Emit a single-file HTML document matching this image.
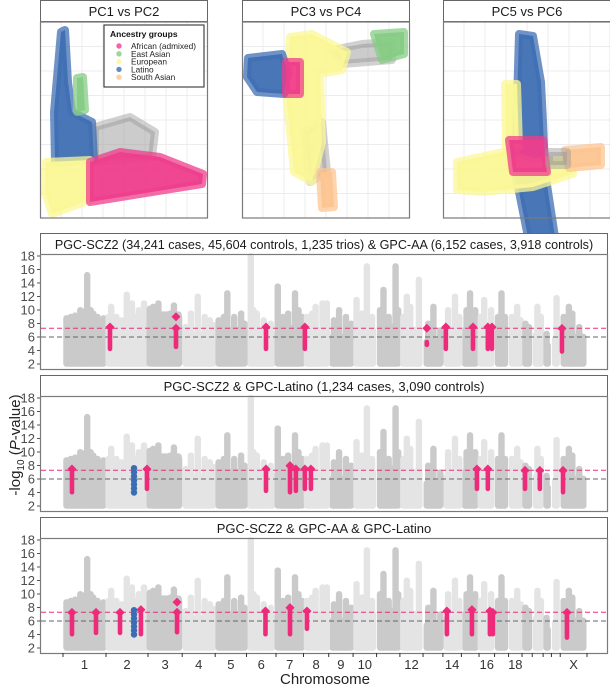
<!DOCTYPE html>
<html><head><meta charset="utf-8"><style>
body{margin:0;background:#fff;}
svg{display:block;font-family:"Liberation Sans",sans-serif;}
</style></head><body>
<svg id="fig" width="610" height="685" viewBox="0 0 610 685" xmlns="http://www.w3.org/2000/svg">
<g id="pca"></g>
<g id="man"></g>
</svg>
<script>
// ---------- Manhattan data ----------
const chrNames=['1','2','3','4','5','6','7','8','9','10','11','12','13','14','15','16','17','18','19','20','21','22','X'];
const chrLen=[249,243,198,191,181,171,159,146,141,136,135,134,115,107,102,90,81,78,59,63,48,51,155];
const chrShown=['1','2','3','4','5','6','7','8','9','10','12','14','16','18','X'];
const baseTop=[8.5,7.5,9.8,6.8,7.5,7,7.8,7.5,6.5,7.5,8,7.5,5.8,6.8,7.5,7.5,7.5,6.8,6.2,6.8,5.2,6.2,6.5];
const peaks=[[1,20,8.8],[1,45,9],[1,70,9.2],[1,100,10],[1,120,9.8],[1,140,15.2],[1,160,10],[1,175,9.5],[1,200,9],[1,215,7.5],[1,235,8.8],
[2,15,9],[2,30,10.5],[2,60,9],[2,90,8.5],[2,120,12.3],[2,150,11],[2,170,9],[2,190,10],[2,220,11],[2,235,9.5],
[3,10,10.2],[3,30,10.5],[3,60,11],[3,100,8],[3,130,9.5],[3,150,10.7],[3,180,9],
[4,20,7.5],[4,50,9.5],[4,90,12],[4,130,9],[4,160,8.5],[4,180,7.8],
[5,20,8.5],[5,50,9],[5,70,12.5],[5,110,9],[5,150,9.5],[5,170,8],
[6,25,18],[6,40,10],[6,60,9.5],[6,100,8.5],[6,140,8],
[7,10,13.5],[7,40,9],[7,70,9.5],[7,110,12.5],[7,130,10],[7,150,9],
[8,20,9],[8,50,9.5],[8,70,10.5],[8,110,11],[8,135,11],
[9,30,8.5],[9,60,10],[9,100,9],[9,130,8],
[10,20,11.5],[10,50,9.5],[10,80,16.5],[10,110,9],
[11,20,10],[11,40,13],[11,70,9],[11,110,16.5],[11,125,10],
[12,20,9],[12,40,12],[12,60,10.5],[12,110,14.5],
[13,30,8],[13,60,10.5],[13,100,7],
[14,30,10],[14,70,12],[14,95,9],
[15,30,10],[15,50,12.5],[15,80,10],
[16,10,9],[16,30,11.5],[16,70,10],
[17,20,9],[17,40,12.5],[17,60,9],
[18,20,9],[18,50,10.5],[18,70,8.5],
[19,20,8],[19,40,7.5],[20,30,10.5],[20,50,9],[21,20,6.5],[22,30,11.8],
[23,20,9],[23,50,10.5],[23,70,9.5],[23,110,7.5]];
// hits: [chr, posMb, top, bottom, kind]
const hits1=[[2,23,8,4.2,'a'],[3,162,9,4.2,'d'],[6,113,8,4.2,'a'],[8,8,8,4.2,'a'],[13,22,7.3,4.5,'d1'],[14,17,8,4.2,'a'],[15,67,8,4.2,'a'],[16,51,8,4.2,'a'],[16,75,8,4.2,'a'],[23,10,7.8,3.8,'a']];
const hits2=[[1,52,8,4,'a'],[2,162,8,4,'b'],[2,237,8,4.5,'a'],[6,113,8,4.2,'a'],[7,81,8.5,4,'a'],[7,115,8,4.2,'a'],[8,8,8,4.5,'a'],[8,43,8,4.5,'a'],[15,90,8,4.5,'a'],[16,51,8,4.5,'a'],[19,17,7.8,4.5,'a'],[20,44,7.8,4.5,'a'],[23,16,7.8,4,'a']];
const hits3=[[1,52,7.8,4,'a'],[1,191,7.8,4.2,'a'],[2,81,7.8,4.2,'a'],[2,162,8,4,'b'],[2,202,8.2,4,'a'],[3,168,8.8,4,'d'],[6,110,8,4,'a'],[7,81,8.5,4,'a'],[8,20,8,4.8,'a'],[14,23,8,4,'a'],[15,61,8.2,4,'a'],[16,63,8,4,'a'],[16,80,7.8,4,'a'],[23,39,7.8,3.5,'a']];
const panelTitles=['PGC-SCZ2 (34,241 cases, 45,604 controls, 1,235 trios) & GPC-AA (6,152 cases, 3,918 controls)','PGC-SCZ2 & GPC-Latino (1,234 cases, 3,090 controls)','PGC-SCZ2 & GPC-AA & GPC-Latino'];
const yTicks=[2,4,6,8,10,12,14,16,18];

const NS='http://www.w3.org/2000/svg';
function mk(tag,attrs,parent){const e=document.createElementNS(NS,tag);for(const k in attrs)e.setAttribute(k,attrs[k]);parent.appendChild(e);return e;}
const man=document.getElementById('man');
const cumStart=[];let acc=0;chrLen.forEach(l=>{cumStart.push(acc);acc+=l;});
const total=acc;
const X0=63,X1=587;
function xg(chr,pos){return X0+(cumStart[chr-1]+pos)*(X1-X0)/total;}
const PINK='#ee2a7b',BLUE='#3a6db3';
const allHits=[hits1,hits2,hits3];
for(let p=0;p<3;p++){
  const off=p*142;
  const top=233+off, y18=256+off;
  const yv=v=>y18+(18-v)*6.75;
  const g=mk('g',{},man);
  
  
  const strip=mk('rect',{x:40.5,y:top+0.5,width:567,height:21,fill:'#fff',stroke:'#666','stroke-width':1},g);
  
  
  const st=mk('text',{x:324,y:top+16,'text-anchor':'middle','font-size':p==0?'12.6':'13',fill:'#1a1a1a'},g);
  st.textContent=panelTitles[p];
  
  
  const bottom=369+off;
  const dg=mk('g',{},g);
  
  
  for(let c=1;c<=23;c++){
    const col=(c%2==1)?'#cacaca':'#e4e4e4';
    const xa=xg(c,0)+0.5,xb=xg(c,chrLen[c-1])-0.5;
    const r=mk('rect',{x:xa,y:yv(baseTop[c-1]),width:Math.max(1,xb-xa),height:yv(1.6)-yv(baseTop[c-1]),rx:3,fill:col},dg);
    
    
  }
  peaks.forEach(pk=>{
    const c=pk[0];const col=(c%2==1)?'#cacaca':'#e4e4e4';
    const x=xg(c,pk[1]);
    const r=mk('rect',{x:x-3.2,y:yv(pk[2])-3,width:6.4,height:yv(1.6)-yv(pk[2])+3,rx:3.2,fill:col},dg);
    
    
  });
  const l1=mk('line',{x1:41,x2:607,y1:yv(7.3),y2:yv(7.3),stroke:PINK,'stroke-width':1,'stroke-dasharray':'5,3'},g);
  
  
  const l2=mk('line',{x1:41,x2:607,y1:yv(6),y2:yv(6),stroke:'#666','stroke-width':1,'stroke-dasharray':'5,3'},g);
  
  
  allHits[p].forEach(h=>{
    const x=xg(h[0],h[1]);
    const hg=mk('g',{},g);
    
    
    if(h[4]=='b'){
      for(let v=h[3];v<=h[2];v+=0.6) mk('circle',{cx:x,cy:yv(v),r:3.2,fill:BLUE},hg);
      return;
    }
    if(h[4]=='d'){
      mk('rect',{x:x-2.3,y:yv(7.3),width:4.6,height:yv(h[3])-yv(7.3),rx:2.3,fill:PINK},hg);
      [h[2],7.3].forEach(v=>mk('polygon',{points:`${x},${yv(v)-4.5} ${x+4.5},${yv(v)} ${x},${yv(v)+4.5} ${x-4.5},${yv(v)}`,fill:PINK},hg));
      return;
    }
    if(h[4]=='d1'){
      mk('rect',{x:x-2.3,y:yv(5.6),width:4.6,height:yv(h[3])-yv(5.6),rx:2.3,fill:PINK},hg);
      mk('polygon',{points:`${x},${yv(7.3)-4.5} ${x+4.5},${yv(7.3)} ${x},${yv(7.3)+4.5} ${x-4.5},${yv(7.3)}`,fill:PINK},hg);
      return;
    }
    mk('rect',{x:x-2.3,y:yv(h[2])+2,width:4.6,height:yv(h[3])-yv(h[2]),rx:2.3,fill:PINK},hg);
    const yt=yv(h[2]);
    mk('polygon',{points:`${x},${yt-1} ${x+4.5},${yt+3.5} ${x+3},${yt+5.5} ${x-3},${yt+5.5} ${x-4.5},${yt+3.5}`,fill:PINK},hg);
  });
  const pb=mk('rect',{x:40.5,y:254.5+off,width:567,height:bottom-254-off,fill:'none',stroke:'#7a7a7a','stroke-width':1.2},g);
  
  
  const yg=mk('g',{},g);
  
  
  yTicks.forEach(t=>{
    mk('line',{x1:37,x2:40,y1:yv(t),y2:yv(t),stroke:'#555'},yg);
    const tx=mk('text',{x:35,y:yv(t)+4.5,'text-anchor':'end','font-size':'13',fill:'#4d4d4d'},yg);
    tx.textContent=t;
    
    
  });
}
const xa=mk('g',{},man);


for(let c=0;c<=23;c++){
  const x=X0+(c<23?cumStart[c]:total)*(X1-X0)/total;
  mk('line',{x1:x,x2:x,y1:653,y2:657,stroke:'#333'},xa);
}
for(let c=1;c<=23;c++){
  if(!chrShown.includes(chrNames[c-1]))continue;
  const t=mk('text',{x:xg(c,chrLen[c-1]/2),y:669,'text-anchor':'middle','font-size':'13',fill:'#333'},xa);
  t.textContent=chrNames[c-1];
  
  
}
const xt=mk('text',{x:325,y:684,'text-anchor':'middle','font-size':'15',fill:'#222'},xa);
xt.textContent='Chromosome';


const ytt=mk('text',{x:0,y:0,'text-anchor':'middle','font-size':'15',fill:'#222',transform:'translate(20,445) rotate(-90)'},man);
ytt.innerHTML='-log<tspan font-size="10" dy="4">10</tspan><tspan dy="-4"> (</tspan><tspan font-style="italic">P</tspan>-value)';



// ---------- PCA ----------
const pcaTitles=['PC1 vs PC2','PC3 vs PC4','PC5 vs PC6'];
const pcaX=[40,242,443];
const groupNames=['African (admixed)','East Asian','European','Latino','South Asian'];
const groupColors=['#ef3d8c','#86cc84','#fbf796','#3f6fb3','#fcc592'];
const pcaShapes=[
 [['gray','55,105 90,95 115,110 112,135 55,140'],['blue','21,10 25,8 28,60 32,90 52,100 54,138 15,140 14,90'],['green','37,56 43,55 45,88 37,90'],['yellow','6,140 50,138 50,178 12,192 5,170'],['pink','50,140 80,130 120,135 163,152 162,162 50,180']],
 [['gray','90,28 120,22 150,20 150,38 100,42'],['gray','62,110 80,100 85,150 68,160'],['green','132,12 162,10 162,32 140,38'],['yellow','48,15 70,12 105,30 100,48 78,52 80,120 70,160 52,150 44,70'],['blue','6,36 40,32 46,50 42,72 15,70 5,55'],['pink','44,40 58,40 58,72 44,72'],['orange','78,150 90,150 92,185 80,186']],
 [['blue','76,12 90,14 98,60 100,100 102,150 112,215 85,215 72,150 74,80'],['yellow','14,140 60,130 90,140 128,136 130,152 90,165 40,170 14,168'],['yellow','62,62 74,62 76,125 63,128'],['pink','66,118 100,118 104,150 70,150'],['orange','122,128 158,125 158,143 126,146'],['gray','106,130 124,130 124,143 106,143']]
];
const cmap={pink:groupColors[0],green:groupColors[1],yellow:groupColors[2],blue:groupColors[3],orange:groupColors[4],gray:'#9a9a9a'};
const pca=document.getElementById('pca');
for(let i=0;i<3;i++){
  const x0=pcaX[i];
  const g=mk('g',{},pca);
  
  
  const s=mk('rect',{x:x0+0.5,y:0.5,width:167,height:21,fill:'#fff',stroke:'#666'},g);
  
  
  const t=mk('text',{x:x0+84,y:16,'text-anchor':'middle','font-size':'13',fill:'#1a1a1a'},g);
  t.textContent=pcaTitles[i];
  
  
  for(let k=1;k<8;k++){
    mk('line',{x1:x0+k*21,x2:x0+k*21,y1:22,y2:218,stroke:'#ececec'},g);
    mk('line',{x1:x0,x2:x0+167,y1:22+k*24.5,y2:22+k*24.5,stroke:'#ececec'},g);
  }
  pcaShapes[i].forEach(sh=>{
    const pts=sh[1].split(' ').map(q=>q.split(',').map(Number)).map(q=>(x0+q[0])+','+(22+q[1])).join(' ');
    const pg=mk('polygon',{points:pts,fill:cmap[sh[0]],stroke:cmap[sh[0]],'stroke-width':8,'stroke-linejoin':'round','fill-opacity':sh[0]=='gray'?0.5:0.95,'stroke-opacity':sh[0]=='gray'?0.45:0.75},g);
    
    
  });
  const b=mk('rect',{x:x0+0.5,y:22,width:167,height:196,fill:'none',stroke:'#7a7a7a','stroke-width':1.2},g);
  
  
}
const lg=mk('g',{},pca);


mk('rect',{x:104,y:25,width:100,height:62,fill:'#fff',stroke:'#222','stroke-width':1},lg);
const lt=mk('text',{x:110,y:37,'font-size':'8.5','font-weight':'bold',fill:'#111'},lg);
lt.textContent='Ancestry groups';
groupNames.forEach((n,j)=>{
  mk('circle',{cx:119,cy:46+j*7.8,r:2.7,fill:groupColors[j],'fill-opacity':0.8},lg);
  const tt=mk('text',{x:131,y:49+j*7.8,'font-size':'8.3',fill:'#222'},lg);
  tt.textContent=n;
  
  
});
</script>
</body></html>
